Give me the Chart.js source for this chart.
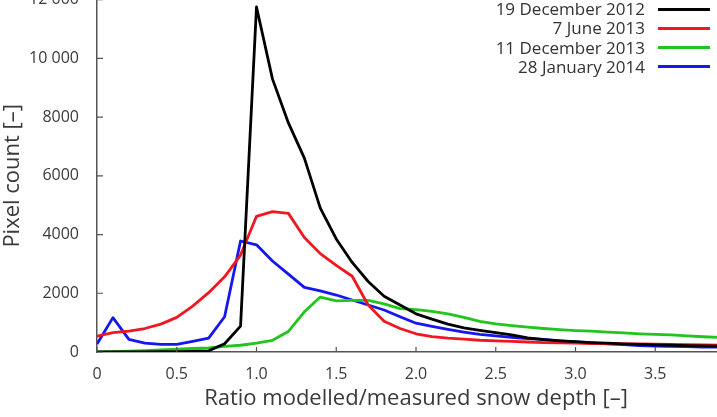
<!DOCTYPE html>
<html>
<head>
<meta charset="utf-8">
<script src="https://cdn.jsdelivr.net/npm/chart.js@4.4.1/dist/chart.umd.min.js"></script>
<style>
  html, body { margin: 0; padding: 0; background: #fff; }
  #wrap { position: relative; width: 717px; height: 417px; overflow: hidden; }
  #snow-chart { position: absolute; left: 0; top: -20px; }
  #legend { position: absolute; top: 0; left: 0; width: 717px; font-family: "Open Sans", sans-serif; font-size: 17px; color: #333; }
  .row { position: absolute; height: 19px; line-height: 19px; }
  .row span { position: absolute; right: 0; white-space: nowrap; }
  .swatch { position: absolute; height: 3px; width: 52px; }
</style>
</head>
<body>
<div id="wrap">
  <canvas id="snow-chart" width="760" height="437"></canvas>
  <div id="legend"></div>
</div>
<script>
// ratio modelled / measured snow depth (bin centres)
const ratios = [0, 0.1, 0.2, 0.3, 0.4, 0.5, 0.6, 0.7, 0.8, 0.9,
  1.0, 1.1, 1.2, 1.3, 1.4, 1.5, 1.6, 1.7, 1.8, 1.9,
  2.0, 2.1, 2.2, 2.3, 2.4, 2.5, 2.6, 2.7, 2.8, 2.9,
  3.0, 3.1, 3.2, 3.3, 3.4, 3.5, 3.6, 3.7, 3.8, 3.9, 4.0];

const dec2012 = [0, 0, 0, 5, 10, 10, 20, 40, 280, 880,
  11750, 9300, 7800, 6600, 4900, 3850, 3050, 2400, 1900, 1600,
  1300, 1120, 950, 820, 740, 660, 580, 480, 420, 380,
  350, 320, 300, 280, 260, 240, 230, 220, 210, 200, 190];

const jun2013 = [540, 660, 710, 800, 950, 1180, 1560, 2020, 2560, 3300,
  4620, 4780, 4720, 3900, 3350, 2950, 2580, 1600, 1050, 800,
  620, 520, 470, 440, 400, 380, 360, 340, 320, 310,
  300, 290, 290, 280, 280, 270, 260, 250, 240, 230, 220];

const dec2013 = [0, 10, 30, 50, 70, 100, 120, 140, 190, 230,
  300, 400, 700, 1370, 1870, 1740, 1760, 1760, 1640, 1480,
  1440, 1380, 1300, 1180, 1040, 960, 900, 850, 800, 760,
  730, 710, 680, 650, 620, 600, 580, 550, 520, 500, 490];

const jan2014 = [270, 1170, 430, 300, 260, 260, 360, 470, 1200, 3780,
  3650, 3100, 2650, 2200, 2080, 1940, 1770, 1600, 1430, 1200,
  980, 870, 770, 680, 600, 550, 500, 460, 430, 380,
  340, 310, 280, 250, 220, 200, 190, 180, 170, 170, 160];

const seriesNames = ["19 December 2012", "7 June 2013", "11 December 2013", "28 January 2014"];
const yTickLabels = ["0", "2000", "4000", "6000", "8000", "10 000", "12 000"];

const colors = ["#000000", "#f01820", "#22c41e", "#1616ee"];
const axisColor = "#555";
const textColor = "#3a3a3a";
const font = "'Open Sans', sans-serif";

function pts(vals) {
  return vals.map((v, i) => ({ x: ratios[i], y: v }));
}

const datasets = [dec2012, jun2013, dec2013, jan2014].map((vals, i) => ({
  label: seriesNames[i],
  data: pts(vals),
  borderColor: colors[i],
  backgroundColor: colors[i],
  borderWidth: 2.8,
  pointRadius: 0,
  tension: 0,
  borderJoinStyle: "round",
  fill: false,
}));

// small ticks pointing into the plot
const inwardTicks = {
  id: "inwardTicks",
  afterDraw(chart) {
    const { ctx, chartArea, scales } = chart;
    ctx.save();
    ctx.strokeStyle = axisColor;
    ctx.lineWidth = 1.2;
    ctx.beginPath();
    scales.x.ticks.forEach((t) => {
      const px = scales.x.getPixelForValue(t.value);
      ctx.moveTo(px, chartArea.bottom);
      ctx.lineTo(px, chartArea.bottom - 5);
    });
    scales.y.ticks.forEach((t) => {
      const py = scales.y.getPixelForValue(t.value);
      ctx.moveTo(chartArea.left, py);
      ctx.lineTo(chartArea.left + 6, py);
    });
    ctx.stroke();
    ctx.restore();
  },
};

const chart = new Chart(document.getElementById("snow-chart"), {
  type: "line",
  data: { datasets },
  options: {
    responsive: false,
    animation: false,
    devicePixelRatio: 1,
    layout: { padding: { top: 12, right: 25, left: 0, bottom: 0 } },
    plugins: { legend: { display: false }, tooltip: { enabled: false } },
    scales: {
      x: {
        type: "linear",
        min: 0,
        max: 4,
        grid: { display: false },
        border: { display: true, color: axisColor, width: 1.5 },
        ticks: { stepSize: 0.5, padding: 5, color: textColor, font: { family: font, size: 16 } },
        title: {
          display: true,
          text: "Ratio modelled/measured snow depth [–]",
          color: textColor,
          font: { family: font, size: 22 },
          padding: { top: 0, bottom: 5 },
        },
        afterFit(s) { s.height = 65; },
      },
      y: {
        min: 0,
        max: 12000,
        grid: { display: false },
        border: { display: true, color: axisColor, width: 1.5 },
        ticks: {
          stepSize: 2000,
          padding: 10,
          color: textColor,
          font: { family: font, size: 16 },
          callback: (v, i) => yTickLabels[i],
        },
        title: {
          display: true,
          text: "Pixel count [–]",
          color: textColor,
          font: { family: font, size: 22 },
          padding: { top: 0, bottom: 0 },
        },
        afterFit(s) { s.width = 97; },
      },
    },
  },
  plugins: [inwardTicks],
});

// legend: label right-aligned, line sample to its right
const legend = document.getElementById("legend");
chart.data.datasets.forEach((ds, i) => {
  const row = document.createElement("div");
  row.className = "row";
  row.style.top = (-1 + i * 19.3) + "px";
  row.style.left = "0px";
  row.style.width = "645px";
  row.innerHTML = "<span>" + ds.label + "</span>";
  legend.appendChild(row);
  const sw = document.createElement("div");
  sw.className = "swatch";
  sw.style.background = ds.borderColor;
  sw.style.left = "658px";
  sw.style.top = (7.5 + i * 19.3) + "px";
  legend.appendChild(sw);
});
</script>
</body>
</html>
